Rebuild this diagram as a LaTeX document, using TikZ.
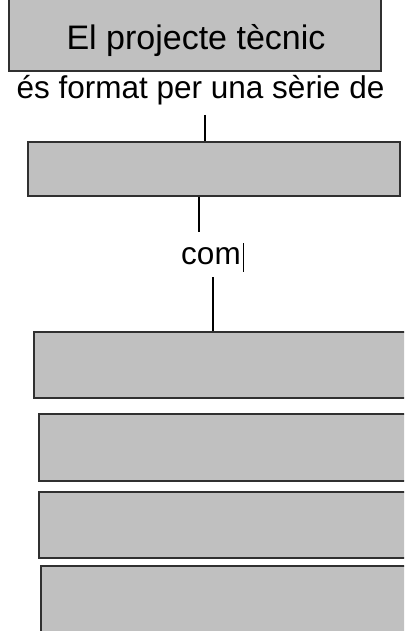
\documentclass[tikz,border=0pt]{standalone}
\usepackage{fontspec}
\setmainfont{Liberation Sans}
\definecolor{boxfill}{HTML}{C0C0C0}
\definecolor{boxline}{HTML}{303030}
\tikzset{
  greybox/.style={draw=boxline, fill=boxfill, line width=1.6pt, rectangle, inner sep=0pt, anchor=north west},
  conn/.style={draw=black, line width=1.1pt},
  lbl/.style={inner sep=0pt, anchor=base, font=\fontsize{31.5}{36}\selectfont}
}
\begin{document}
\begin{tikzpicture}[x=1pt,y=-1pt]
\useasboundingbox (0,0) rectangle (404,631);
\clip (0,0) rectangle (404,631);
% boxes
\node[greybox, minimum width=372pt, minimum height=76pt] (b1) at (8,-6) {};
\node[inner sep=0pt, anchor=base, font=\fontsize{34}{40}\selectfont] (t1) at (196,50) {El projecte tècnic};
\node[lbl] (l1) at (200.5,99) {és format per una sèrie de};
\node[greybox, minimum width=372pt, minimum height=54pt] (b2) at (27,141) {};
\node[lbl] (l2) at (211,264) {com};
\node[greybox, minimum width=390pt, minimum height=66pt] (b3) at (33,331) {};
\node[greybox, minimum width=390pt, minimum height=67pt] (b4) at (38,413) {};
\node[greybox, minimum width=390pt, minimum height=66pt] (b5) at (38,491) {};
\node[greybox, minimum width=390pt, minimum height=68pt] (b6) at (40,565) {};
% connectors
\coordinate (c1) at (205,115);
\coordinate (c2) at (199,232);
\coordinate (c3) at (213,277);
\draw[conn] (c1) -- (c1 |- b2.north);
\draw[conn] (c2 |- b2.south) -- (c2);
\draw[conn] (c3) -- (c3 |- b3.north);
% text cursor
\coordinate (k1) at (243,243);
\coordinate (k2) at (243,272);
\draw[line width=1pt] (k1) -- (k2);
\end{tikzpicture}
\end{document}
